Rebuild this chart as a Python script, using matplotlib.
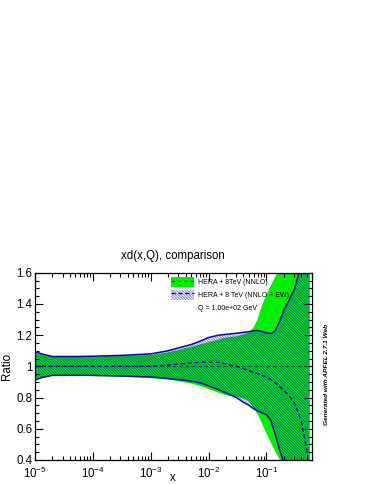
import matplotlib
matplotlib.use("Agg")
import matplotlib.pyplot as plt
from matplotlib.patches import Patch
from matplotlib.lines import Line2D
from matplotlib.ticker import MultipleLocator, FuncFormatter, LogLocator

plt.rcParams['font.family'] = ['Liberation Sans', 'DejaVu Sans']
plt.rcParams['mathtext.fontset'] = 'custom'
plt.rcParams['mathtext.rm'] = 'Liberation Sans'
plt.rcParams['mathtext.it'] = 'Liberation Sans:italic'
plt.rcParams['hatch.linewidth'] = 0.7

# ---------------- data ----------------
x = [1e-5, 1.3e-5, 2e-5, 5e-5, 1e-4, 3e-4, 1e-3, 2e-3, 3e-3, 5e-3, 7e-3, 1e-2,
     1.5e-2, 2e-2, 3e-2, 4e-2, 5e-2, 6e-2, 7e-2, 8e-2, 0.1, 0.12, 0.14, 0.17,
     0.2, 0.25, 0.3, 0.4, 0.5, 0.56]

nnlo_up = [1.085, 1.075, 1.062, 1.062, 1.063, 1.066, 1.073, 1.09, 1.105, 1.126, 1.14, 1.155,
           1.172, 1.185, 1.192, 1.205, 1.215, 1.25, 1.30, 1.37, 1.46, 1.52, 1.57, 1.63,
           1.70, 1.85, 2.0, 2.3, 2.5, 2.6]
nnlo_lo = [0.922, 0.932, 0.94, 0.94, 0.938, 0.935, 0.925, 0.915, 0.905, 0.89, 0.875, 0.855,
           0.83, 0.815, 0.805, 0.795, 0.775, 0.73, 0.695, 0.65, 0.57, 0.51, 0.46, 0.40,
           0.35, 0.30, 0.25, 0.20, 0.15, 0.10]
nnlo_c = [1.0] * len(x)

ew_up = [1.095, 1.08, 1.063, 1.063, 1.065, 1.07, 1.08, 1.10, 1.118, 1.14, 1.16, 1.185,
         1.20, 1.205, 1.212, 1.218, 1.222, 1.228, 1.23, 1.225, 1.215, 1.21, 1.225, 1.29,
         1.36, 1.43, 1.49, 1.65, 1.9, 2.0]
ew_lo = [0.912, 0.928, 0.942, 0.943, 0.942, 0.938, 0.932, 0.922, 0.915, 0.905, 0.895, 0.875,
         0.85, 0.83, 0.80, 0.77, 0.75, 0.728, 0.715, 0.705, 0.69, 0.65, 0.57, 0.46,
         0.38, 0.30, 0.25, 0.20, 0.15, 0.10]
ew_c = [1.0, 1.0, 1.0, 1.0, 1.0, 1.0, 1.0, 1.008, 1.015, 1.022, 1.026, 1.028,
        1.025, 1.015, 1.0, 0.985, 0.972, 0.962, 0.953, 0.945, 0.932, 0.915, 0.895, 0.87,
        0.845, 0.81, 0.77, 0.65, 0.46, 0.34]

labels = ["HERA + 8TeV (NNLO)", "HERA + 8 TeV (NNLO + EW)", "Q = 1.00e+02 GeV"]
title = "xd(x,Q), comparison"

# ---------------- style ----------------
GREEN = '#00ee00'
DKGREEN = '#007a00'
BLUE = '#0a0a99'
HATCH = (0.1, 0.1, 0.8, 0.55)
HPAT = '\\' * 12

W, H = 374, 484
fig = plt.figure(figsize=(W / 100, H / 100), dpi=100)
L, R, T, B = 35, 311.5, 272.7, 460
ax = fig.add_axes([L / W, 1 - B / H, (R - L) / W, (B - T) / H])

ax.fill_between(x, nnlo_lo, nnlo_up, facecolor=GREEN, edgecolor='none', lw=0, zorder=1)
ax.plot(x, nnlo_c, color=DKGREEN, ls=(0, (3, 2)), lw=0.9, zorder=2)
ax.fill_between(x, ew_lo, ew_up, facecolor='none', edgecolor=HATCH, hatch=HPAT,
                lw=0, zorder=3)
ax.plot(x, ew_up, color=BLUE, lw=1.1, zorder=4)
ax.plot(x, ew_lo, color=BLUE, lw=1.1, zorder=4)
ax.plot(x, ew_c, color=BLUE, ls=(0, (3, 2)), lw=1.0, zorder=4)

ax.set_xscale('log')
ax.set_xlim(1e-5, 0.6)
ax.set_ylim(0.4, 1.6)

ax.yaxis.set_major_locator(MultipleLocator(0.2))
ax.yaxis.set_minor_locator(MultipleLocator(0.05))
ax.yaxis.set_major_formatter(FuncFormatter(lambda v, p: '%g' % round(v, 2)))
ax.xaxis.set_major_locator(LogLocator(base=10, numticks=10))
ax.xaxis.set_minor_locator(LogLocator(base=10, subs=range(2, 10), numticks=20))

ax.tick_params(which='both', direction='in', top=True, right=True, width=0.8)
ax.tick_params(which='major', length=6)
ax.tick_params(which='minor', length=3)
ax.tick_params(axis='y', labelsize=8.3, pad=2)
ax.tick_params(axis='x', labelsize=8.3, pad=4)
for s in ax.spines.values():
    s.set_linewidth(0.9)

ax.set_title(title, fontsize=8.3, pad=10)
ax.set_xlabel('x', fontsize=8.3)
ax.xaxis.label.set_va('baseline')
ax.xaxis.set_label_coords(0.5, -0.11)
ax.set_ylabel('Ratio', fontsize=8.3)
ax.yaxis.set_label_coords(-0.081, 0.5)

h1 = (Patch(facecolor=GREEN, edgecolor='none'),
      Line2D([], [], color=DKGREEN, ls=(0, (3, 2)), lw=0.9))
h2 = (Patch(facecolor='white', edgecolor=HATCH, hatch=HPAT, lw=0),
      Line2D([], [], color=BLUE, ls=(0, (3, 2)), lw=1.0))
h3 = Patch(facecolor='none', edgecolor='none')
leg = ax.legend([h1, h2, h3], labels, loc='upper left',
                bbox_to_anchor=(171 / W, 1 - 277 / H), bbox_transform=fig.transFigure,
                frameon=False, fontsize=5, handlelength=3.3, handleheight=1.85,
                handletextpad=0.6, labelspacing=0.4, borderpad=0, borderaxespad=0)

fig.text(326.7 / W, 1 - 374 / H, "Generated with APFEL 2.7.1 Web", rotation=90,
         ha='center', va='center', fontsize=4.67, fontweight='bold', fontstyle='italic')

fig.savefig('out.png', dpi=100)
